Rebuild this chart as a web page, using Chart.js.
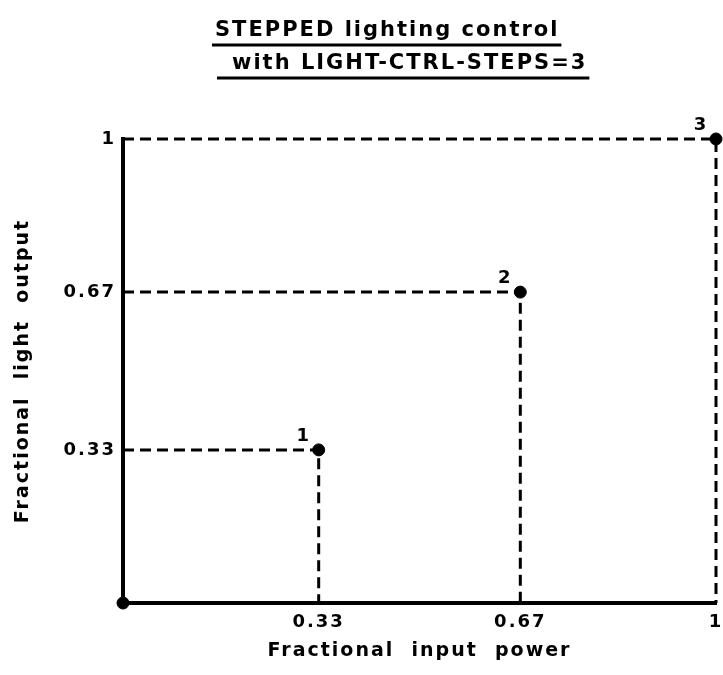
<!DOCTYPE html>
<html>
<head>
<meta charset="utf-8">
<script src="https://cdn.jsdelivr.net/npm/chart.js@4.4.1/dist/chart.umd.min.js"></script>
<style>
  html, body { margin: 0; padding: 0; background: #fff; }
</style>
</head>
<body>
<canvas id="stepChart" width="723" height="675"></canvas>
<script>
// values
const titleLines = ['STEPPED lighting control', 'with LIGHT-CTRL-STEPS=3'];
const stepLabels = ['', '1', '2', '3'];
const inputPower = [0, 0.33, 0.67, 1];
const lightOutput = [0, 0.33, 0.67, 1];
const xTickValues = [0.33, 0.67, 1];
const yTickValues = [0.33, 0.67, 1];
const xTickLabels = ['0.33', '0.67', '1'];
const yTickLabels = ['0.33', '0.67', '1'];
const xTitle = 'Fractional  input  power';
const yTitle = 'Fractional  light  output';

const FONT = "'DejaVu Sans', sans-serif";
const SPACING = '2px';

// one dashed guide per step: y axis -> point -> x axis
var datasets = [];
for (var i = 1; i < inputPower.length; i++) {
  datasets.push({
    type: 'line',
    data: [
      { x: 0, y: lightOutput[i] },
      { x: inputPower[i], y: lightOutput[i] },
      { x: inputPower[i], y: 0 }
    ],
    borderColor: '#000',
    borderWidth: 3,
    borderDash: [11, 6],
    pointRadius: 0,
    tension: 0,
    clip: false
  });
}
datasets.push({
  type: 'scatter',
  data: inputPower.map((v, i) => ({ x: v, y: lightOutput[i] })),
  backgroundColor: '#000',
  borderColor: '#000',
  pointRadius: 6,
  pointHoverRadius: 6,
  clip: false
});

// wide plotter-style lettering
const letterSpacing = {
  id: 'letterSpacing',
  beforeUpdate(chart) { chart.ctx.letterSpacing = SPACING; },
  beforeDraw(chart) { chart.ctx.letterSpacing = SPACING; }
};

// underlined heading and the step numbers next to the points
const annotations = {
  id: 'annotations',
  afterDraw(chart) {
    const ctx = chart.ctx;
    ctx.save();
    ctx.letterSpacing = SPACING;
    ctx.fillStyle = '#000';
    ctx.strokeStyle = '#000';
    ctx.lineWidth = 3;
    ctx.textBaseline = 'middle';
    ctx.font = 'bold 21px ' + FONT;
    const startX = [215, 232];
    const lineY = [31, 64];
    const underlineFrom = [212, 217];
    titleLines.forEach((t, k) => {
      ctx.textAlign = 'left';
      ctx.fillText(t, startX[k], lineY[k]);
      const w = ctx.measureText(t).width;
      ctx.beginPath();
      ctx.moveTo(underlineFrom[k], lineY[k] + 14);
      ctx.lineTo(startX[k] + w + 2, lineY[k] + 14);
      ctx.stroke();
    });

    const xs = chart.scales.x, ys = chart.scales.y;
    ctx.textAlign = 'center';
    ctx.font = 'bold 18px ' + FONT;
    stepLabels.forEach((s, i) => {
      if (!s) return;
      ctx.fillText(s, xs.getPixelForValue(inputPower[i]) - 15, ys.getPixelForValue(lightOutput[i]) - 14);
    });
    ctx.restore();
  }
};

const tickFont = { family: FONT, size: 18, weight: 'bold' };
const titleFont = { family: FONT, size: 19, weight: 'bold' };

new Chart(document.getElementById('stepChart'), {
  type: 'scatter',
  data: { datasets: datasets },
  options: {
    responsive: false,
    animation: false,
    layout: { padding: { top: 139, right: 7, bottom: 0, left: 0 } },
    plugins: {
      legend: { display: false },
      tooltip: { enabled: false }
    },
    scales: {
      x: {
        type: 'linear',
        min: 0,
        max: 1,
        afterFit(s) { s.height = 72; s.paddingRight = 0; s.paddingLeft = 0; },
        afterBuildTicks(s) { s.ticks = xTickValues.map(v => ({ value: v })); },
        ticks: {
          callback: (v, idx) => xTickLabels[idx],
          color: '#000',
          font: tickFont,
          padding: 9,
          maxRotation: 0,
          autoSkip: false
        },
        grid: { display: false, drawTicks: false },
        border: { display: true, color: '#000', width: 4 },
        title: {
          display: true,
          text: xTitle,
          color: '#000',
          font: titleFont,
          padding: { top: 0, bottom: 13 }
        }
      },
      y: {
        type: 'linear',
        min: 0,
        max: 1,
        afterFit(s) { s.width = 123; },
        afterBuildTicks(s) { s.ticks = yTickValues.map(v => ({ value: v })); },
        ticks: {
          callback: (v, idx) => yTickLabels[idx],
          color: '#000',
          font: tickFont,
          padding: 7,
          autoSkip: false
        },
        grid: { display: false, drawTicks: false },
        border: { display: true, color: '#000', width: 4 },
        title: {
          display: true,
          text: yTitle,
          color: '#000',
          font: titleFont,
          padding: { top: 12, bottom: 0 }
        }
      }
    }
  },
  plugins: [letterSpacing, annotations]
});
</script>
</body>
</html>
